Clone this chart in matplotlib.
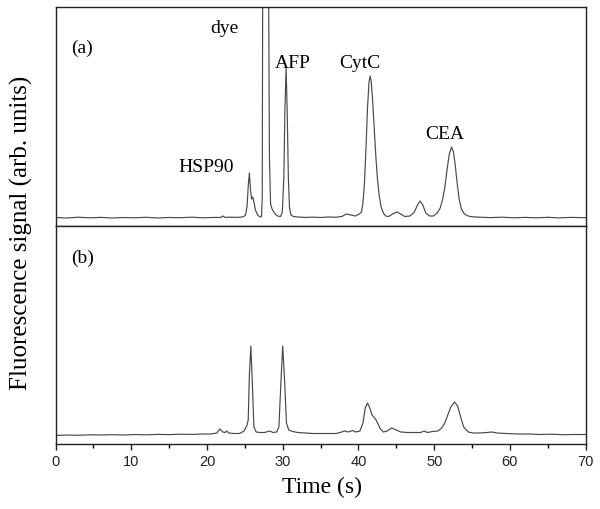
import matplotlib
matplotlib.use("Agg")
import matplotlib.pyplot as plt
from matplotlib.ticker import MultipleLocator

# trace (a): time (s) and signal above baseline (arb. units)
t_a = [0, 1.5, 3, 4.5, 6, 7.5, 9, 10.5, 12, 13.5, 15, 16.5, 18, 19.5, 21, 21.8,
       22.1, 22.4, 23, 24, 24.8, 25.1, 25.3, 25.45, 25.6, 25.75, 25.9, 26.05,
       26.2, 26.4, 26.7, 27.0, 27.2, 27.3, 27.38, 27.5, 27.9, 28.1, 28.25, 28.4,
       28.6, 28.9, 29.3, 29.7, 29.95, 30.15, 30.3, 30.45, 30.6, 30.75, 30.9,
       31.1, 31.4, 32, 33, 34, 35, 36, 37, 37.8, 38.4, 39.0, 39.6, 40.1, 40.4,
       40.6, 40.8, 41.0, 41.2, 41.4, 41.55, 41.7, 41.9, 42.1, 42.3, 42.5, 42.75,
       43.0, 43.3, 43.6, 44.0, 44.5, 45.1, 45.6, 46.1, 46.8, 47.4, 47.8, 48.15,
       48.5, 48.9, 49.4, 49.9, 50.4, 50.8, 51.1, 51.4, 51.7, 52.0, 52.3, 52.55,
       52.8, 53.05, 53.3, 53.6, 54.0, 54.5, 55, 56, 57.5, 59, 60.5, 62, 63.5,
       65, 66.5, 68, 70]
sig_a = [0.5, 0, 0.8, 0.2, 0.6, 0, 0.5, 0.2, 0.7, 0, 0.5, 0.3, 0.8, 0.2, 0.6, 0.5,
         2.0, 0.6, 0.8, 0.6, 1.2, 3, 12, 32, 45, 28, 19, 21,
         16, 8, 3, 1, 1.5, 20, 300, 500, 500, 300, 60, 14,
         9, 5, 2, 1.5, 6, 40, 110, 150, 105, 40, 10,
         3, 1.5, 1, 0.6, 0.8, 0.5, 1, 0.8, 1.5, 4, 3, 2, 4, 6,
         15, 35, 70, 110, 136, 142, 136, 115, 88, 62, 40, 22,
         11, 5, 2, 1.5, 4, 6, 4, 1.5, 2, 6, 13, 17,
         13, 5, 2, 2, 5, 10, 18, 30, 48, 64, 71, 66,
         52, 34, 19, 9, 4, 2, 1.2, 0.8, 0.4, 0.8, 0.2, 0.6, 0.2,
         0.7, 0.1, 0.6, 0.3]

# trace (b)
t_b = [0, 1.5, 3, 4.5, 6, 7.5, 9, 10.5, 12, 13.5, 15, 16.5, 18, 19.5, 20.5, 21.3,
       21.7, 22.1, 22.4, 22.6, 22.9, 23.5, 24.3, 24.9, 25.25, 25.45, 25.6, 25.8,
       26.0, 26.2, 26.5, 27, 27.6, 28.3, 28.7, 29.2, 29.5, 29.75, 30.0, 30.25,
       30.5, 30.8, 31.3, 32, 33, 34, 35, 36, 37, 37.6, 38.2, 38.7, 39.2, 39.7,
       40.2, 40.6, 40.9, 41.2, 41.5, 41.8, 42.25, 42.6, 42.9, 43.3, 43.8, 44.4,
       45.0, 45.6, 46.5, 47.5, 48.2, 48.7, 49.1, 49.8, 50.5, 51.0, 51.4, 51.8,
       52.2, 52.7, 53.1, 53.5, 53.9, 54.5, 55.2, 56, 57, 57.6, 58.3, 59.5, 61,
       62.5, 64, 65.5, 67, 68.5, 70]
sig_b = [-0.5, 0, -0.3, 0.2, 0, 0.3, 0, 0.5, 0.2, 0.6, 0.4, 0.8, 0.6, 1, 1, 2,
         6, 3, 2.5, 4, 2, 1.5, 1.5, 4, 9, 15, 60, 89,
         50, 8, 3, 2.5, 2.5, 4, 2.5, 3, 8, 50, 89, 55,
         12, 5, 3.5, 2.5, 2, 1.5, 1.5, 1.5, 1.5, 2.5, 4, 3, 4.5, 3,
         4, 12, 27, 32, 27, 20, 16, 11, 6, 3, 4, 7,
         5, 3, 2.5, 2.5, 2.5, 4, 2.5, 3.5, 4, 7, 12, 20,
         28, 33, 29, 18, 8, 3, 2, 2, 2.5, 3, 2, 1.5, 1,
         1, 0.5, 0.8, 0.3, 0.5, 0.5]

labels_a = ["HSP90", "dye", "AFP", "CytC", "CEA"]
label_pos = [(0.285, 0.265), (0.319, 0.904), (0.448, 0.744), (0.575, 0.744), (0.734, 0.416)]

serif = ["Liberation Serif", "DejaVu Serif"]
line_col = "#484848"

fig = plt.figure(figsize=(6, 5.09), dpi=100)
ax1 = fig.add_axes([0.0925, 0.556, 0.8835, 0.4302])
ax2 = fig.add_axes([0.0925, 0.1277, 0.8835, 0.4283], sharex=ax1)

ax1.plot(t_a, sig_a, color=line_col, lw=0.85)
ax2.plot(t_b, sig_b, color=line_col, lw=0.85)

ax1.set_ylim(-8, 211)
ax2.set_ylim(-9, 209)
ax2.set_xlim(0, 70)

for ax in (ax1, ax2):
    ax.set_yticks([])
    for s in ax.spines.values():
        s.set_linewidth(1.0)
        s.set_color("#222222")

ax1.tick_params(axis="x", bottom=False, labelbottom=False)
ax2.xaxis.set_major_locator(MultipleLocator(10))
ax2.xaxis.set_minor_locator(MultipleLocator(5))
ax2.tick_params(axis="x", which="major", direction="out", length=4, width=1, pad=4,
                labelsize=10.5, colors="#222222")
ax2.tick_params(axis="x", which="minor", direction="out", length=3, width=1)
for lab in ax2.get_xticklabels():
    lab.set_family(["Liberation Sans", "DejaVu Sans"])

for txt, (x, y) in zip(labels_a, label_pos):
    ax1.text(x, y, txt, transform=ax1.transAxes, ha="center", va="center",
             fontsize=14, family=serif)
ax1.text(0.029, 0.813, "(a)", transform=ax1.transAxes, ha="left", va="center",
         fontsize=14, family=serif)
ax2.text(0.029, 0.853, "(b)", transform=ax2.transAxes, ha="left", va="center",
         fontsize=14, family=serif)

fig.text(0.036, 0.542, "Fluorescence signal (arb. units)", rotation=90,
         ha="center", va="center", fontsize=18, family=serif)
fig.text(0.536, 0.043, "Time (s)", ha="center", va="center", fontsize=17, family=serif)

fig.savefig("out.png", dpi=100)
